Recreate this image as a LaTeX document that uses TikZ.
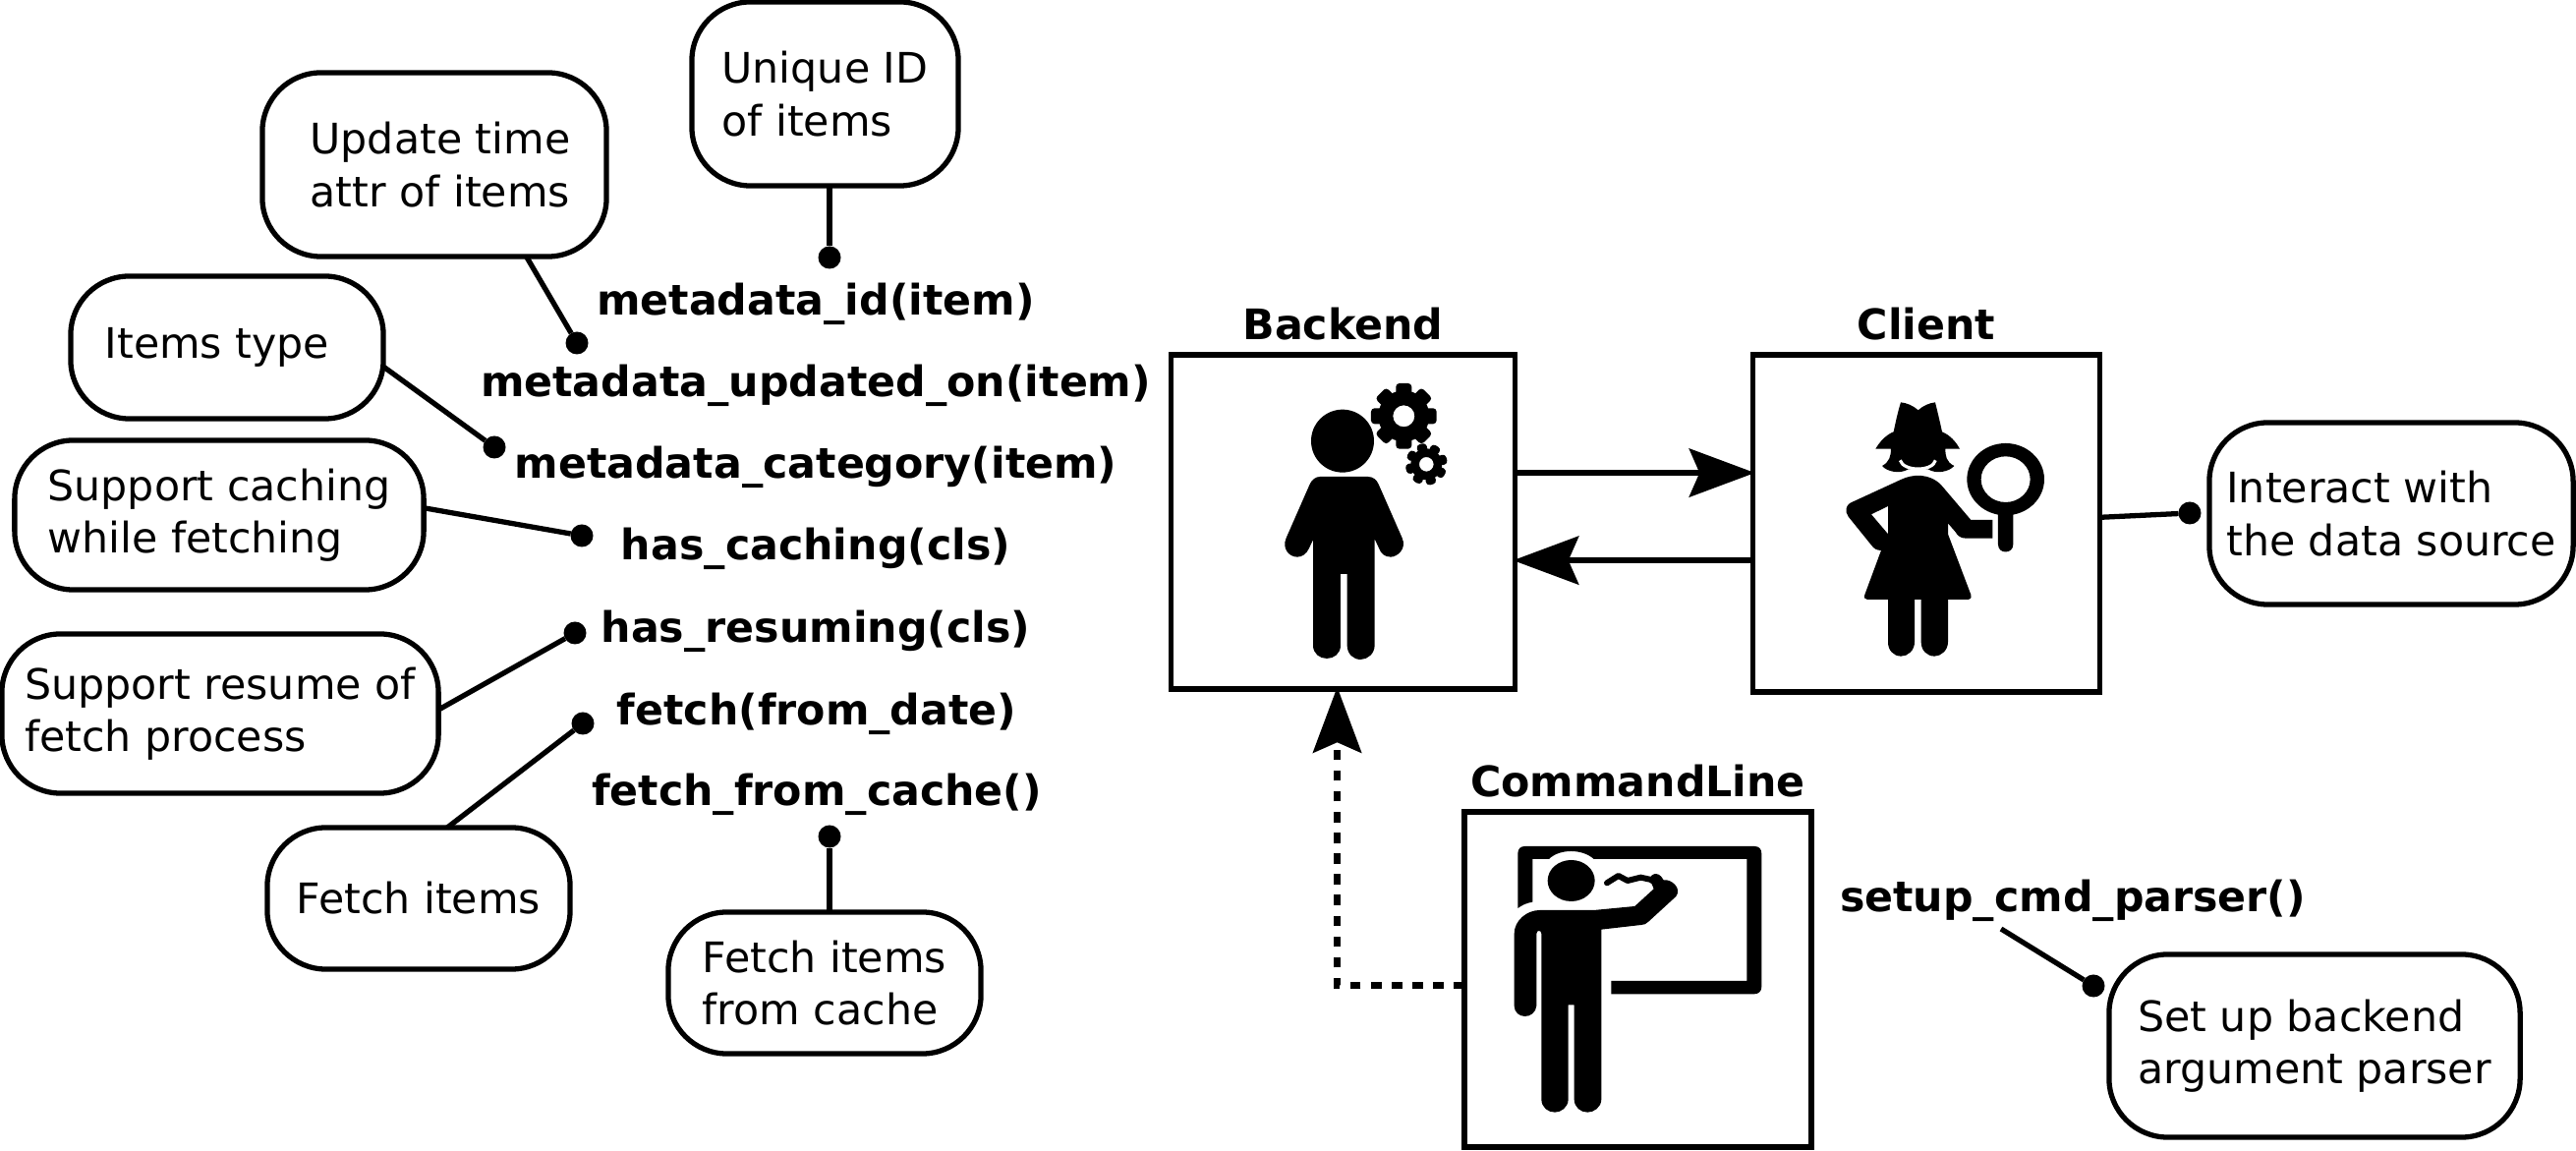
\documentclass[tikz,border=0pt]{standalone}
\usepackage{fontspec}
\setmainfont{DejaVu Sans}
\usetikzlibrary{shapes, calc, arrows.meta, positioning}
\tikzstyle{actor}=[draw,line width=1.5pt,inner sep=0pt,outer sep=0pt,minimum width=3.53cm,minimum height=3.41cm]
\tikzstyle{note}=[draw,line width=1.5pt,rounded corners=17pt,inner sep=0pt,outer sep=0pt,align=left,font=\fontsize{12.15}{15.2}\selectfont]
\tikzstyle{method}=[inner sep=0pt,text height=9pt,text depth=3pt,font=\fontsize{12.15}{14}\selectfont\bfseries]
\tikzstyle{dot}=[circle,fill=black,inner sep=0pt,outer sep=0pt,minimum size=0.23cm]
\tikzstyle{link}=[line width=1.5pt]
\tikzstyle{flow}=[line width=1.5pt,shorten >=-0.6pt,-{Stealth[length=19pt,width=14pt,inset=3pt]}]
\newcommand{\gearicon}[6]{% x, y, outer, body, hole, rot
    \foreach \a in {0,45,...,315} {
        \fill[rotate around={\a+#6:(#1,#2)},rounded corners=1pt] ($(#1,#2)+(-0.24*#3,-#3)$) rectangle ($(#1,#2)+(0.24*#3,-0.6*#3)$);
    }
    \fill[even odd rule] (#1,#2) circle (#4) (#1,#2) circle (#5);
}

\begin{document}
\begin{tikzpicture}[x=0.01cm,y=-0.01cm]
    \useasboundingbox (0,0) rectangle (2621,1171);

    \node (backend)[actor,minimum width=3.50cm,minimum height=3.40cm] at (1366.5,531) {};
    \node (client)[actor,minimum height=3.43cm] at (1960,532.5) {};
    \node (cmdline)[actor] at (1666.5,996.5) {};
    \node[method,above=0.04cm of backend] (backendname) {Backend};
    \node[method,above=0.04cm of client] (clientname) {Client};
    \node[method,above=0.04cm of cmdline] (cmdlinename) {CommandLine};

    \node (m1)[method] at (830,310) {metadata\_id(item)};
    \node (m2)[method] at (830,393) {metadata\_updated\_on(item)};
    \node (m3)[method] at (830,476) {metadata\_category(item)};
    \node (m4)[method] at (830,559) {has\_caching(cls)};
    \node (m5)[method] at (830,643) {has\_resuming(cls)};
    \node (m6)[method] at (831,727) {fetch(from\_date)};
    \node (m7)[method] at (831,809) {fetch\_from\_cache()};
    \node (m8)[method] at (2109,917) {setup\_cmd\_parser()};

    \node (n1)[note,minimum width=2.71cm,minimum height=1.87cm] at (839.5,95.5) {Unique ID\\of items};
    \node (n2)[note,minimum width=3.50cm,minimum height=1.87cm] at (442,167.5) {\hspace*{0.12cm}Update time\\\hspace*{0.12cm}attr of items};
    \node (n3)[note,minimum width=3.18cm,minimum height=1.45cm] at (231,353.5) {Items type\hspace*{0.2cm}};
    \node (n4)[note,minimum width=4.16cm,minimum height=1.52cm] at (223,524) {Support caching\\while fetching};
    \node (n5)[note,minimum width=4.44cm,minimum height=1.62cm] at (224,726) {Support resume of\\fetch process};
    \node (n6)[note,minimum width=3.08cm,minimum height=1.44cm] at (426,914) {Fetch items};
    \node (n7)[note,minimum width=3.18cm,minimum height=1.44cm] at (839,1000) {Fetch items\\from cache};
    \node (n8)[note,minimum width=3.70cm,minimum height=1.85cm] at (2433,522.5) {Interact with\\the data source};
    \node (n9)[note,minimum width=4.18cm,minimum height=1.86cm] at (2355,1064) {\raisebox{-1pt}{Set up backend}\\\raisebox{-1pt}{argument parser}};

    \node (d1)[dot] at (844,262) {};
    \node (d2)[dot] at (587,349) {};
    \node (d3)[dot] at (503,455) {};
    \node (d4)[dot] at (592,545) {};
    \node (d5)[dot] at (585,644) {};
    \node (d6)[dot] at (593,736) {};
    \node (d7)[dot] at (844,851) {};
    \node (d8)[dot] at (2228,522) {};
    \node (d9)[dot] at (2130,1003) {};
    \coordinate (setupend) at (2036,945);

    \draw[link] (d1 |- n1.south) -- (d1);
    \draw[link] (n2.-45) -- (d2);
    \draw[link] (n3.-7) -- (d3);
    \draw[link] (n4.2) -- (d4);
    \draw[link] (n5.1) -- (d5);
    \draw[link] (n6.68) -- (d6);
    \draw[link] (d7 |- n7.north) -- (d7);
    \draw[link] (client.2) -- (d8);
    \draw[link] (setupend) -- (d9);

    \draw[flow] ([yshift=14.2pt]backend.east) -- ([yshift=14.2pt]backend.east -| client.west);
    \draw[flow] ([yshift=-10.7pt]client.west) -- ([yshift=-10.7pt]client.west -| backend.east);
    \draw[flow,line width=1.8pt,dash pattern=on 3pt off 3pt] (cmdline.182) -| (backend.-92.5);

    % backend person
    \begin{scope}[shift={(1170,340)},scale=0.3333]
        \fill (588,326) circle (96);
        \fill (520,435) -- (665,435) .. controls (682,435) and (692,445) .. (698,458) -- (770,622) .. controls (785,655) and (755,680) .. (735,680) .. controls (715,680) and (705,668) .. (700,655) -- (686,625) -- (686,950) .. controls (686,975) and (665,993) .. (643,993) .. controls (620,993) and (602,975) .. (602,950) -- (602,732) -- (582,732) -- (582,950) .. controls (582,975) and (562,990) .. (540,990) .. controls (518,990) and (498,975) .. (498,950) -- (498,628) -- (485,655) .. controls (478,670) and (465,680) .. (450,680) .. controls (425,680) and (402,655) .. (416,622) -- (488,458) .. controls (494,445) and (505,435) .. (520,435) -- cycle;
        \gearicon{775}{250}{100}{78}{33}{0}
        \gearicon{844}{397}{64}{48}{22}{15}
    \end{scope}

    % client person
    \begin{scope}[shift={(1770,340)},scale=0.3333]
        \fill (492,208) .. controls (510,210) and (530,218) .. (545,232) .. controls (560,218) and (580,210) .. (597,208) .. controls (605,240) and (612,270) .. (618,298) .. controls (642,308) and (660,328) .. (672,350) -- (628,350) .. controls (628,370) and (630,390) .. (655,402) .. controls (640,420) and (600,428) .. (575,412) -- (545,412) -- (515,412) .. controls (490,428) and (450,420) .. (435,402) .. controls (458,390) and (462,370) .. (462,350) -- (415,350) .. controls (428,328) and (446,308) .. (470,298) .. controls (476,270) and (482,240) .. (492,208) -- cycle;
        \draw[white,line width=0.9pt] (490,385) .. controls (500,420) and (590,420) .. (598,385);
        \fill[even odd rule] (338,515) -- (490,445) .. controls (530,425) and (580,425) .. (615,460) -- (706,567) -- (772,567) -- (772,623) -- (690,623) .. controls (675,623) and (665,615) .. (660,605) -- (636,577) -- (636,610) -- (706,795) .. controls (708,805) and (705,810) .. (698,810) -- (636,810) -- (636,940) .. controls (636,965) and (615,983) .. (595,983) .. controls (572,983) and (554,965) .. (554,940) -- (554,810) -- (534,810) -- (534,940) .. controls (534,965) and (514,983) .. (493,983) .. controls (470,983) and (453,965) .. (453,940) -- (453,810) -- (390,810) .. controls (382,810) and (378,803) .. (382,795) -- (432,660) .. controls (420,660) and (410,655) .. (403,645) -- (332,557) .. controls (320,540) and (325,522) .. (338,515) -- cycle (402,550) -- (453,525) -- (453,610) -- cycle;
        \fill[even odd rule] (812,443) ellipse [x radius=118,y radius=110] (812,443) ellipse [x radius=75,y radius=70];
        \fill (789,540) -- (789,642) .. controls (789,672) and (835,672) .. (835,642) -- (835,540) -- cycle;
    \end{scope}

    % commandline person
    \begin{scope}[shift={(1470,810)},scale=0.3333]
        \fill (223,342) -- (223,175) .. controls (223,160) and (232,153) .. (245,153) -- (945,153) .. controls (958,153) and (967,160) .. (967,175) -- (967,582) .. controls (967,595) and (958,604) .. (945,604) -- (508,604) -- (508,564) -- (922,564) -- (922,192) -- (455,192) .. controls (420,160) and (350,160) .. (318,192) -- (268,192) -- (268,323) .. controls (250,326) and (235,333) .. (223,342) -- cycle;
        \fill (386,258) ellipse [x radius=72,y radius=63];
        \fill (290,348) -- (455,348) -- (580,336) -- (638,283) -- (632,268) -- (624,262) .. controls (622,240) and (650,222) .. (668,256) .. controls (690,252) and (725,280) .. (706,306) -- (622,383) .. controls (615,390) and (608,393) .. (600,393) -- (478,407) -- (478,925) .. controls (478,950) and (455,965) .. (436,965) .. controls (415,965) and (395,950) .. (395,925) -- (395,637) -- (377,637) -- (377,925) .. controls (377,950) and (355,965) .. (336,965) .. controls (315,965) and (295,950) .. (295,925) -- (295,420) .. controls (295,408) and (280,408) .. (280,420) -- (280,640) .. controls (278,660) and (262,672) .. (245,672) .. controls (228,672) and (212,660) .. (212,640) -- (212,420) .. controls (212,380) and (250,348) .. (290,348) -- cycle;
        \draw[line width=1.7pt,line cap=round,line join=round] (495,265) -- (530,243) -- (558,258) -- (598,248) -- (630,255);
    \end{scope}
\end{tikzpicture}
\end{document}
